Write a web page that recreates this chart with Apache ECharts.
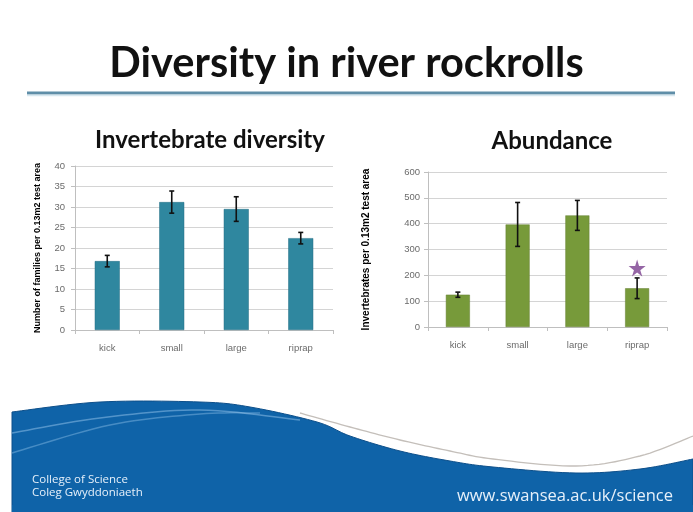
<!DOCTYPE html>
<html>
<head>
<meta charset="utf-8">
<script src="https://cdn.jsdelivr.net/npm/echarts@6/dist/echarts.min.js"></script>
<style>
html,body{margin:0;padding:0;background:#fff;}
#c{width:693px;height:512px;}
</style>
</head>
<body>
<div id="c"></div>
<script>
// ---- data ----
var categories = ['kick', 'small', 'large', 'riprap'];
var diversityValues = [16.8, 31.2, 29.5, 22.4];
var diversityErrors = [1.4, 2.7, 3.0, 1.4];
var abundanceValues = [125, 397, 432, 150];
var abundanceErrors = [10, 85, 58, 40];
var diversityTicks = {min: 0, max: 40, interval: 5};
var abundanceTicks = {min: 0, max: 600, interval: 100};
var starMarker = [['riprap', 228]];

var chart = echarts.init(document.getElementById('c'), null, {renderer: 'canvas'});

function errData(vals, errs) {
  return vals.map(function (v, i) { return [i, v - errs[i], v + errs[i]]; });
}
function errRender(params, api) {
  var x = api.value(0);
  var lo = api.coord([x, api.value(1)]);
  var hi = api.coord([x, api.value(2)]);
  var cap = 2.5;
  var st = {stroke: '#111', lineWidth: 1.6};
  return {type: 'group', children: [
    {type: 'line', shape: {x1: lo[0], y1: lo[1], x2: hi[0], y2: hi[1]}, style: st},
    {type: 'line', shape: {x1: hi[0] - cap, y1: hi[1], x2: hi[0] + cap, y2: hi[1]}, style: st},
    {type: 'line', shape: {x1: lo[0] - cap, y1: lo[1], x2: lo[0] + cap, y2: lo[1]}, style: st}
  ]};
}

// footer wave decoration: Catmull-Rom smoothing through guide points
function spline(p, n) {
  var out = [];
  for (var i = 0; i < p.length - 1; i++) {
    var p0 = p[Math.max(i - 1, 0)], p1 = p[i], p2 = p[i + 1], p3 = p[Math.min(i + 2, p.length - 1)];
    for (var k = 0; k < n; k++) {
      var t = k / n, t2 = t * t, t3 = t2 * t;
      out.push([0, 1].map(function (d) {
        return 0.5 * ((2 * p1[d]) + (-p0[d] + p2[d]) * t + (2 * p0[d] - 5 * p1[d] + 4 * p2[d] - p3[d]) * t2 + (-p0[d] + 3 * p1[d] - 3 * p2[d] + p3[d]) * t3);
      }));
    }
  }
  out.push(p[p.length - 1]);
  return out;
}
var edge = spline([[12, 412], [100, 402], [200, 402], [250, 407], [317, 422], [350, 436], [400, 451], [450, 461], [493, 467], [576, 473], [640, 469], [693, 459]], 12);
var wavePoly = edge.concat([[693, 512], [12, 512]]);
var greyLine = spline([[300, 413], [350, 427], [400, 440], [450, 451], [493, 459], [576, 466], [640, 456], [693, 436]], 12);
var stripe1 = spline([[12, 433], [100, 418], [200, 410], [300, 420]], 12);
var stripe2 = spline([[12, 453], [110, 425], [200, 414], [260, 413]], 12);

var tickLabel = {color: '#6b6b6b', fontSize: 9.5, fontFamily: 'Liberation Sans'};

var option = {
  backgroundColor: '#fff',
  animation: false,
  title: [
    {text: 'Diversity in river rockrolls', left: 'center', top: 38,
      textStyle: {fontFamily: 'Lato', fontWeight: 'bold', fontSize: 41.5, color: '#111'}},
    {text: 'Invertebrate diversity', left: 205, textAlign: 'center', top: 123,
      textStyle: {fontFamily: 'Lato', fontWeight: 'bold', fontSize: 24, color: '#111'}},
    {text: 'Abundance', left: 547, textAlign: 'center', top: 124,
      textStyle: {fontFamily: 'Lato', fontWeight: 'bold', fontSize: 24, color: '#111'}}
  ],
  grid: [
    {left: 75, top: 166, width: 258, height: 164},
    {left: 428, top: 172, width: 239, height: 155}
  ],
  xAxis: [
    {type: 'category', gridIndex: 0, data: categories,
      axisLine: {lineStyle: {color: '#bfbfbf'}}, axisTick: {show: true, length: 4, lineStyle: {color: '#bfbfbf'}},
      axisLabel: Object.assign({margin: 13}, tickLabel)},
    {type: 'category', gridIndex: 1, data: categories,
      axisLine: {lineStyle: {color: '#bfbfbf'}}, axisTick: {show: true, length: 4, lineStyle: {color: '#bfbfbf'}},
      axisLabel: Object.assign({margin: 13}, tickLabel)}
  ],
  yAxis: [
    {type: 'value', gridIndex: 0, min: diversityTicks.min, max: diversityTicks.max, interval: diversityTicks.interval,
      name: 'Number of families per 0.13m2 test area', nameLocation: 'middle', nameGap: 33, nameRotate: 90,
      nameTextStyle: {color: '#000', fontSize: 9, fontWeight: 'bold', fontFamily: 'Liberation Sans'},
      axisLine: {show: true, lineStyle: {color: '#bfbfbf'}}, axisTick: {show: true, length: 4, lineStyle: {color: '#bfbfbf'}},
      splitLine: {lineStyle: {color: '#d4d4d4'}}, axisLabel: Object.assign({margin: 10}, tickLabel)},
    {type: 'value', gridIndex: 1, min: abundanceTicks.min, max: abundanceTicks.max, interval: abundanceTicks.interval,
      name: 'Invertebrates per 0.13m2 test area', nameLocation: 'middle', nameGap: 57, nameRotate: 90,
      nameTextStyle: {color: '#000', fontSize: 10, fontWeight: 'bold', fontFamily: 'Liberation Sans'},
      axisLine: {show: true, lineStyle: {color: '#bfbfbf'}}, axisTick: {show: true, length: 4, lineStyle: {color: '#bfbfbf'}},
      splitLine: {lineStyle: {color: '#d4d4d4'}}, axisLabel: Object.assign({margin: 8}, tickLabel)}
  ],
  series: [
    {type: 'bar', xAxisIndex: 0, yAxisIndex: 0, data: diversityValues, barWidth: 25,
      itemStyle: {color: '#2f879f', borderColor: '#276f84', borderWidth: 0.5}},
    {type: 'custom', xAxisIndex: 0, yAxisIndex: 0, data: errData(diversityValues, diversityErrors),
      renderItem: errRender, z: 5},
    {type: 'bar', xAxisIndex: 1, yAxisIndex: 1, data: abundanceValues, barWidth: 24,
      itemStyle: {color: '#779a3a', borderColor: '#647f32', borderWidth: 0.5}},
    {type: 'custom', xAxisIndex: 1, yAxisIndex: 1, data: errData(abundanceValues, abundanceErrors),
      renderItem: errRender, z: 5},
    {type: 'scatter', xAxisIndex: 1, yAxisIndex: 1, data: starMarker, symbolSize: 17,
      symbol: 'path://M50,0 L61,35 L98,35 L68,57 L79,92 L50,70 L21,92 L32,57 L2,35 L39,35 Z',
      itemStyle: {color: '#7a3f8f'}, z: 6}
  ],
  graphic: [
    {type: 'line', shape: {x1: 27, y1: 93, x2: 675, y2: 93}, style: {stroke: '#5f8ea8', lineWidth: 3}},
    {type: 'line', shape: {x1: 27, y1: 95.5, x2: 675, y2: 95.5}, style: {stroke: '#d7e8f0', lineWidth: 1.5}},
    {type: 'polyline', shape: {points: greyLine}, style: {stroke: '#c4bfba', lineWidth: 1.3, fill: null}},
    {type: 'polygon', shape: {points: wavePoly}, style: {fill: '#0f63a8', stroke: '#0d4f8a', lineWidth: 1}},
    {type: 'polyline', shape: {points: stripe1}, style: {stroke: 'rgba(140,190,230,0.55)', lineWidth: 1.5, fill: null}},
    {type: 'polyline', shape: {points: stripe2}, style: {stroke: 'rgba(140,190,230,0.45)', lineWidth: 1.5, fill: null}},
    {type: 'rect', shape: {x: 12, y: 505, width: 681, height: 7}, style: {fill: '#0f63a8'}},
    {type: 'text', left: 32, top: 474, style: {text: 'College of Science', fill: '#e6f0fa', font: '11.5px "Open Sans"'}},
    {type: 'text', left: 32, top: 487, style: {text: 'Coleg Gwyddoniaeth', fill: '#e6f0fa', font: '11.5px "Open Sans"'}},
    {type: 'text', right: 20, top: 488, style: {text: 'www.swansea.ac.uk/science', fill: '#e6f0fa', font: '16.5px "Open Sans"'}}
  ]
};
chart.setOption(option);
</script>
</body>
</html>
